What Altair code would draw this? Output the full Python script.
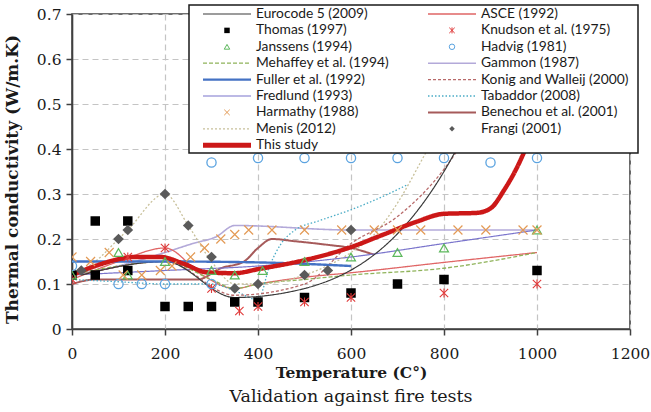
import altair as alt
import pandas as pd

# ---------------- data ----------------
x_ticks = [0, 200, 400, 600, 800, 1000, 1200]
y_ticks = [0, 0.1, 0.2, 0.3, 0.4, 0.5, 0.6, 0.7]

eurocode_T = [20, 200, 350, 500, 800, 1200]
eurocode_k = [0.12, 0.15, 0.07, 0.09, 0.35, 1.50]

asce_T = [0, 100, 200, 280, 350, 400, 500, 600, 800, 1000]
asce_k = [0.11, 0.15, 0.18, 0.12, 0.09, 0.10, 0.115, 0.125, 0.148, 0.17]

mehaffey_T = [0, 100, 200, 300, 350, 400, 500, 600, 800, 1000]
mehaffey_k = [0.12, 0.14, 0.15, 0.11, 0.09, 0.10, 0.11, 0.12, 0.135, 0.17]

fuller_T = [0, 200, 400, 600]
fuller_k = [0.15, 0.15, 0.148, 0.14]

fredlund_T = [0, 200, 400, 600, 800, 1000]
fredlund_k = [0.12, 0.13, 0.14, 0.16, 0.19, 0.22]

gammon_T = [0, 100, 200, 260, 310, 350, 600, 1000]
gammon_k = [0.12, 0.14, 0.17, 0.19, 0.205, 0.23, 0.22, 0.22]

konig_T = [20, 200, 350, 500, 600, 700, 800, 900]
konig_k = [0.12, 0.15, 0.075, 0.10, 0.19, 0.25, 0.355, 0.52]

tabaddor_T = [0, 100, 200, 300, 350, 400, 425, 450, 480, 530, 600, 680, 720]
tabaddor_k = [0.11, 0.105, 0.10, 0.10, 0.085, 0.065, 0.14, 0.19, 0.22, 0.24, 0.265, 0.30, 0.32]

menis_T = [0, 50, 100, 120, 200, 250, 300, 350, 400, 500, 600, 650, 700, 760, 820]
menis_k = [0.12, 0.15, 0.20, 0.22, 0.30, 0.23, 0.15, 0.10, 0.10, 0.12, 0.17, 0.21, 0.28, 0.39, 0.50]

benechou_T = [0, 50, 270, 320, 370, 400, 430, 480, 550, 600, 650]
benechou_k = [0.10, 0.11, 0.11, 0.135, 0.15, 0.18, 0.20, 0.195, 0.187, 0.18, 0.165]

study_T = [0, 50, 100, 130, 190, 240, 290, 350, 400, 500, 600, 670, 740, 800, 870, 900, 930, 955, 975, 1000]
study_k = [0.12, 0.14, 0.155, 0.16, 0.16, 0.145, 0.126, 0.124, 0.133, 0.153, 0.182, 0.21, 0.238, 0.256, 0.258, 0.268, 0.31, 0.355, 0.40, 0.47]

thomas_T = [0, 50, 50, 120, 120, 200, 250, 300, 350, 400, 500, 600, 700, 800, 1000]
thomas_k = [0.12, 0.24, 0.12, 0.24, 0.13, 0.05, 0.05, 0.05, 0.06, 0.06, 0.07, 0.08, 0.10, 0.11, 0.13]

knudson_T = [0, 120, 200, 300, 360, 400, 500, 600, 800, 1000]
knudson_k = [0.11, 0.16, 0.18, 0.09, 0.04, 0.05, 0.06, 0.07, 0.08, 0.10]

hadvig_T = [0, 100, 150, 200, 300, 300, 400, 500, 600, 700, 800, 900, 1000]
hadvig_k = [0.14, 0.10, 0.10, 0.10, 0.10, 0.37, 0.38, 0.38, 0.38, 0.38, 0.38, 0.37, 0.38]

janssens_T = [0, 100, 120, 200, 300, 350, 410, 500, 600, 700, 800, 1000]
janssens_k = [0.12, 0.17, 0.12, 0.15, 0.13, 0.12, 0.13, 0.15, 0.16, 0.17, 0.18, 0.22]

harmathy_T = [0, 40, 80, 110, 150, 190, 215, 255, 285, 320, 350, 380, 430, 500, 580, 650, 700, 750, 830, 890, 970, 1000]
harmathy_k = [0.16, 0.15, 0.17, 0.12, 0.12, 0.13, 0.14, 0.16, 0.18, 0.20, 0.21, 0.22, 0.22, 0.22, 0.22, 0.22, 0.22, 0.22, 0.22, 0.22, 0.22, 0.22]

frangi_T = [20, 100, 120, 200, 250, 300, 350, 400, 500, 550, 600]
frangi_k = [0.13, 0.20, 0.22, 0.30, 0.23, 0.16, 0.09, 0.10, 0.12, 0.13, 0.22]

legend_col1 = ["Eurocode 5 (2009)", "Thomas (1997)", "Janssens (1994)", "Mehaffey et al. (1994)",
               "Fuller et al. (1992)", "Fredlund (1993)", "Harmathy (1988)", "Menis (2012)", "This study"]
legend_col2 = ["ASCE (1992)", "Knudson et al. (1975)", "Hadvig (1981)", "Gammon (1987)",
               "Konig and Walleij (2000)", "Tabaddor (2008)", "Benechou et al. (2001)", "Frangi (2001)"]

x_title = "Temperature (C°)"
y_title = "Thermal conductivity (W/m.K)"
caption = "Validation against fire tests"

# ---------------- series table and styles ----------------
series_data = {
    "Eurocode 5 (2009)": (eurocode_T, eurocode_k),
    "ASCE (1992)": (asce_T, asce_k),
    "Mehaffey et al. (1994)": (mehaffey_T, mehaffey_k),
    "Fuller et al. (1992)": (fuller_T, fuller_k),
    "Fredlund (1993)": (fredlund_T, fredlund_k),
    "Gammon (1987)": (gammon_T, gammon_k),
    "Konig and Walleij (2000)": (konig_T, konig_k),
    "Tabaddor (2008)": (tabaddor_T, tabaddor_k),
    "Menis (2012)": (menis_T, menis_k),
    "Benechou et al. (2001)": (benechou_T, benechou_k),
    "This study": (study_T, study_k),
    "Thomas (1997)": (thomas_T, thomas_k),
    "Knudson et al. (1975)": (knudson_T, knudson_k),
    "Hadvig (1981)": (hadvig_T, hadvig_k),
    "Janssens (1994)": (janssens_T, janssens_k),
    "Harmathy (1988)": (harmathy_T, harmathy_k),
    "Frangi (2001)": (frangi_T, frangi_k),
}

X_PATH = "M-1,-1L1,1M-1,1L1,-1"
AST_PATH = "M-1,-1L1,1M-1,1L1,-1M0,-1.1L0,1.1"

line_styles = {
    "Benechou et al. (2001)": dict(color="#a65a5a", strokeWidth=2.0, dash=[1, 0]),
    "Gammon (1987)": dict(color="#b3a9d9", strokeWidth=1.6, dash=[1, 0]),
    "Fredlund (1993)": dict(color="#7a74cc", strokeWidth=1.2, dash=[1, 0]),
    "ASCE (1992)": dict(color="#e06666", strokeWidth=1.3, dash=[1, 0]),
    "Mehaffey et al. (1994)": dict(color="#8fb35a", strokeWidth=1.3, dash=[4, 2]),
    "Menis (2012)": dict(color="#c8c09a", strokeWidth=1.3, dash=[2, 2]),
    "Tabaddor (2008)": dict(color="#4bacc6", strokeWidth=1.3, dash=[1.5, 2]),
    "Konig and Walleij (2000)": dict(color="#b86a6a", strokeWidth=1.3, dash=[3, 2]),
    "Eurocode 5 (2009)": dict(color="#3a3a3a", strokeWidth=1.2, dash=[1, 0]),
    "Fuller et al. (1992)": dict(color="#4472c4", strokeWidth=2.4, dash=[1, 0]),
    "This study": dict(color="#cc1818", strokeWidth=4.5, dash=[1, 0]),
}

point_styles = {
    "Thomas (1997)": dict(color="#000000", shape="square", filled=True, size=90, strokeWidth=1),
    "Knudson et al. (1975)": dict(color="#e03a3a", shape=AST_PATH, filled=False, size=70, strokeWidth=1.1),
    "Hadvig (1981)": dict(color="#5ba3e0", shape="circle", filled=False, size=85, strokeWidth=1.3),
    "Janssens (1994)": dict(color="#5cb85c", shape="triangle-up", filled=False, size=80, strokeWidth=1.2),
    "Harmathy (1988)": dict(color="#e39a55", shape=X_PATH, filled=False, size=80, strokeWidth=1.2),
    "Frangi (2001)": dict(color="#5a5a5a", shape="diamond", filled=True, size=115, strokeWidth=1),
}

GRID = "#c4c4c4"
AXIS = "#404040"
SERIF = "DejaVu Serif"
PLOT_W, PLOT_H = 558, 315

x_axis = alt.Axis(values=x_ticks, format="d", title=x_title, grid=True, gridColor=GRID,
                  gridDash=[6, 4], gridWidth=1.2, domainColor=AXIS, domainWidth=1.6,
                  tickColor=AXIS, tickWidth=1.5, tickSize=6, labelFont=SERIF, labelFontSize=15.5,
                  labelColor="#1a1a1a", labelPadding=11, labelFlush=False, labelOverlap=False,
                  titleFont=SERIF, titleFontSize=15.5, titleFontWeight="bold", titleColor="#1a1a1a",
                  titleX=PLOT_W / 2, titleY=43, titleAlign="center", titleBaseline="middle")
y_axis = alt.Axis(values=y_ticks, labelExpr="datum.value == 0 ? '0' : format(datum.value, '.1f')",
                  title=y_title, grid=True, gridColor=GRID, gridDash=[6, 4], gridWidth=1.2,
                  domainColor=AXIS, domainWidth=1.6, tickColor=AXIS, tickWidth=1.5, tickSize=6,
                  labelFont=SERIF, labelFontSize=15.5, labelColor="#1a1a1a", labelPadding=5,
                  labelFlush=False, labelOverlap=False,
                  titleFont=SERIF, titleFontSize=17, titleFontWeight="bold", titleColor="#1a1a1a",
                  titleX=-60, titleY=165, titleBaseline="middle", titleAlign="center")

x_enc = alt.X("T:Q", scale=alt.Scale(domain=[0, 1200], nice=False, zero=False), axis=x_axis)
y_enc = alt.Y("k:Q", scale=alt.Scale(domain=[0, 0.7], nice=False), axis=y_axis)


def frame(name):
    T, k = series_data[name]
    return pd.DataFrame({"T": T, "k": k, "name": name})


layers = []
for name, st in line_styles.items():
    layers.append(
        alt.Chart(frame(name)).mark_line(color=st["color"], strokeWidth=st["strokeWidth"],
                                          strokeDash=st["dash"], interpolate="monotone", clip=True)
        .encode(x=x_enc, y=y_enc, order=alt.Order("T:Q"))
    )
for name, st in point_styles.items():
    layers.append(
        alt.Chart(frame(name)).mark_point(shape=st["shape"], filled=st["filled"], color=st["color"],
                                           size=st["size"], strokeWidth=st["strokeWidth"], opacity=1,
                                           clip=True)
        .encode(x=x_enc, y=y_enc)
    )

# ---------------- legend box (layout in pixels of the plot area) ----------------
box_df = pd.DataFrame({"b": [0]})
layers.append(
    alt.Chart(box_df).mark_rect(fill="white", stroke="#1a1a1a", strokeWidth=1.5)
    .encode(x=alt.value(117), x2=alt.value(566), y=alt.value(-9), y2=alt.value(139))
)
row_h = 16.4
for col, names in enumerate([legend_col1, legend_col2]):
    for row, name in enumerate(names):
        x1 = 131 + col * 225
        x2 = x1 + 48
        yy = row * row_h
        d = pd.DataFrame({"label": [name]})
        if name in line_styles:
            st = line_styles[name]
            lw = 5 if name == "This study" else st["strokeWidth"]
            layers.append(
                alt.Chart(d).mark_rule(color=st["color"], strokeWidth=lw, strokeDash=st["dash"])
                .encode(x=alt.value(x1), x2=alt.value(x2), y=alt.value(yy))
            )
        else:
            st = point_styles[name]
            layers.append(
                alt.Chart(d).mark_point(shape=st["shape"], filled=st["filled"], color=st["color"],
                                        size=30, strokeWidth=1, opacity=1)
                .encode(x=alt.value((x1 + x2) / 2), y=alt.value(yy))
            )
        layers.append(
            alt.Chart(d).mark_text(align="left", baseline="middle", font="Lato", fontSize=13.8,
                                   color="#1a1a1a")
            .encode(x=alt.value(x1 + 53), y=alt.value(yy), text="label:N")
        )

cap_df = pd.DataFrame({"c": [caption]})
layers.append(
    alt.Chart(cap_df).mark_text(align="center", baseline="middle", font=SERIF, fontSize=17.5,
                                color="#1a1a1a")
    .encode(x=alt.value(PLOT_W / 2), y=alt.value(383), text="c:N")
)

chart = alt.layer(*layers).properties(
    width=PLOT_W, height=PLOT_H,
    autosize=alt.AutoSizeParams(type="none"),
    padding={"left": 72, "top": 14, "right": 21, "bottom": 83},
    background="white",
).configure_view(stroke=AXIS, strokeWidth=1.6).configure_legend(disable=True)

chart.save("out.html", embed_options={"renderer": "svg", "actions": False})
